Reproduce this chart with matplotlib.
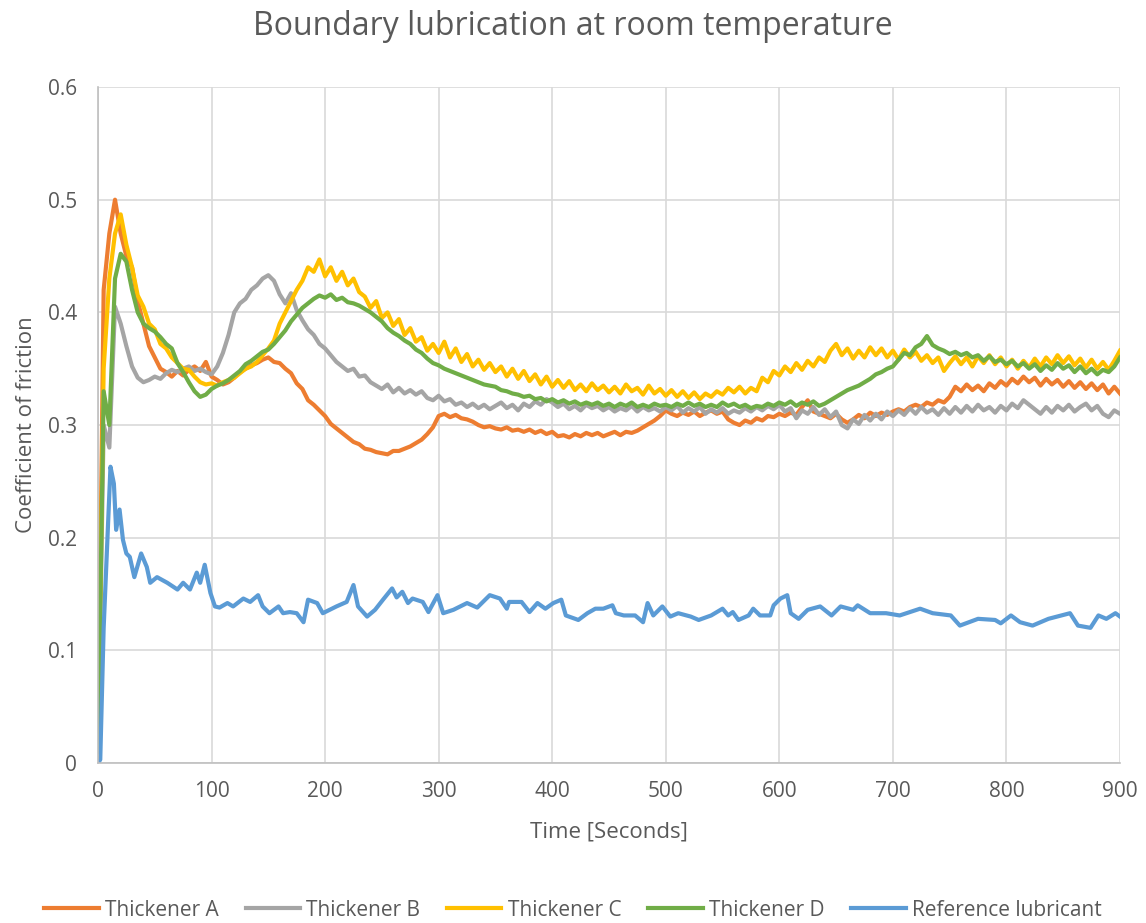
import numpy as np
import matplotlib.pyplot as plt

plt.rcParams['font.family'] = ['Open Sans', 'DejaVu Sans']

# time grid of the thickener series (seconds)
t = np.arange(0, 905, 5)

thick_a = [
    0.00, 0.42, 0.47, 0.50, 0.47, 0.45, 0.44, 0.41, 0.39, 0.37,
    0.36, 0.35, 0.347, 0.343, 0.348, 0.344, 0.349, 0.352, 0.348, 0.356,
    0.343, 0.340, 0.336, 0.338, 0.342, 0.347, 0.350, 0.353, 0.355, 0.358,
    0.360, 0.356, 0.355, 0.350, 0.346, 0.337, 0.332, 0.322, 0.318, 0.313,
    0.308, 0.301, 0.297, 0.293, 0.289, 0.285, 0.283, 0.279, 0.278, 0.276,
    0.275, 0.274, 0.277, 0.277, 0.279, 0.281, 0.284, 0.287, 0.292, 0.298,
    0.308, 0.310, 0.307, 0.309, 0.306, 0.305, 0.303, 0.300, 0.298, 0.299,
    0.297, 0.296, 0.298, 0.295, 0.296, 0.294, 0.296, 0.293, 0.295, 0.292,
    0.294, 0.290, 0.291, 0.289, 0.292, 0.290, 0.293, 0.291, 0.293, 0.290,
    0.292, 0.294, 0.291, 0.294, 0.293, 0.295, 0.298, 0.301, 0.304, 0.308,
    0.313, 0.310, 0.308, 0.311, 0.309, 0.312, 0.308, 0.311, 0.313, 0.310,
    0.312, 0.305, 0.302, 0.300, 0.304, 0.302, 0.306, 0.304, 0.308, 0.307,
    0.310, 0.308, 0.311, 0.309, 0.316, 0.322, 0.312, 0.310, 0.308, 0.306,
    0.310, 0.305, 0.302, 0.305, 0.309, 0.306, 0.311, 0.308, 0.311, 0.309,
    0.312, 0.314, 0.312, 0.316, 0.318, 0.316, 0.320, 0.318, 0.322, 0.320,
    0.325, 0.334, 0.330, 0.336, 0.331, 0.335, 0.330, 0.337, 0.333, 0.339,
    0.335, 0.341, 0.337, 0.343, 0.338, 0.342, 0.335, 0.341, 0.336, 0.340,
    0.334, 0.339, 0.333, 0.338, 0.332, 0.337, 0.331, 0.336, 0.328, 0.334,
    0.328,
]

thick_b = [
    0.00, 0.30, 0.28, 0.405, 0.39, 0.37, 0.352, 0.342, 0.338, 0.340,
    0.343, 0.341, 0.346, 0.349, 0.347, 0.350, 0.352, 0.348, 0.350, 0.347,
    0.345, 0.352, 0.364, 0.380, 0.400, 0.408, 0.412, 0.420, 0.424, 0.430,
    0.433, 0.428, 0.416, 0.408, 0.417, 0.402, 0.393, 0.385, 0.380, 0.372,
    0.368, 0.362, 0.356, 0.352, 0.348, 0.350, 0.343, 0.344, 0.338, 0.335,
    0.332, 0.336, 0.329, 0.333, 0.328, 0.331, 0.327, 0.330, 0.324, 0.322,
    0.326, 0.321, 0.323, 0.318, 0.320, 0.316, 0.319, 0.315, 0.318, 0.314,
    0.317, 0.320, 0.315, 0.318, 0.313, 0.319, 0.316, 0.321, 0.318, 0.323,
    0.320, 0.316, 0.319, 0.314, 0.317, 0.313, 0.318, 0.315, 0.317, 0.313,
    0.316, 0.312, 0.315, 0.313, 0.317, 0.312, 0.316, 0.313, 0.315, 0.312,
    0.316, 0.313, 0.317, 0.311, 0.315, 0.312, 0.316, 0.310, 0.314, 0.311,
    0.315, 0.310, 0.313, 0.311, 0.315, 0.312, 0.316, 0.313, 0.317, 0.314,
    0.318, 0.312, 0.315, 0.306, 0.313, 0.310, 0.316, 0.309, 0.314, 0.307,
    0.312, 0.300, 0.297, 0.305, 0.301, 0.309, 0.304, 0.310, 0.305, 0.312,
    0.308, 0.313, 0.309, 0.315, 0.310, 0.316, 0.311, 0.314, 0.309, 0.315,
    0.310, 0.316, 0.311, 0.317, 0.312, 0.318, 0.313, 0.316, 0.311, 0.317,
    0.313, 0.319, 0.315, 0.322, 0.318, 0.314, 0.310, 0.316, 0.311, 0.317,
    0.313, 0.318, 0.312, 0.316, 0.319, 0.313, 0.317, 0.310, 0.307, 0.313,
    0.310,
]

thick_c = [
    0.00, 0.35, 0.43, 0.47, 0.487, 0.46, 0.44, 0.415, 0.405, 0.39,
    0.385, 0.372, 0.368, 0.360, 0.355, 0.350, 0.349, 0.343, 0.338, 0.336,
    0.337, 0.335, 0.338, 0.340, 0.342, 0.346, 0.350, 0.352, 0.356, 0.362,
    0.368, 0.375, 0.390, 0.400, 0.410, 0.420, 0.428, 0.440, 0.436, 0.447,
    0.432, 0.440, 0.428, 0.436, 0.424, 0.430, 0.418, 0.414, 0.404, 0.410,
    0.395, 0.400, 0.388, 0.394, 0.380, 0.386, 0.374, 0.378, 0.366, 0.372,
    0.364, 0.374, 0.360, 0.368, 0.356, 0.363, 0.352, 0.358, 0.349, 0.355,
    0.347, 0.352, 0.343, 0.350, 0.341, 0.348, 0.339, 0.345, 0.336, 0.343,
    0.334, 0.340, 0.333, 0.339, 0.331, 0.336, 0.330, 0.337, 0.331, 0.335,
    0.329, 0.334, 0.328, 0.336, 0.330, 0.333, 0.327, 0.335, 0.328, 0.332,
    0.326, 0.331, 0.325, 0.330, 0.324, 0.329, 0.323, 0.328, 0.325, 0.330,
    0.327, 0.333, 0.329, 0.334, 0.328, 0.333, 0.330, 0.342, 0.338, 0.348,
    0.344, 0.352, 0.347, 0.355, 0.349, 0.357, 0.352, 0.360, 0.356, 0.366,
    0.372, 0.362, 0.368, 0.359, 0.366, 0.360, 0.369, 0.362, 0.368, 0.360,
    0.366, 0.358, 0.367, 0.360, 0.365, 0.357, 0.362, 0.355, 0.360, 0.348,
    0.355, 0.361, 0.354, 0.360, 0.352, 0.361, 0.355, 0.362, 0.354, 0.360,
    0.352, 0.358, 0.350, 0.357, 0.351, 0.359, 0.352, 0.360, 0.354, 0.362,
    0.355, 0.361, 0.353, 0.359, 0.351, 0.358, 0.350, 0.356, 0.349, 0.357,
    0.366,
]

thick_d = [
    0.01, 0.33, 0.30, 0.43, 0.452, 0.445, 0.42, 0.40, 0.39, 0.386,
    0.383, 0.378, 0.372, 0.368, 0.355, 0.347, 0.338, 0.330, 0.325, 0.327,
    0.332, 0.335, 0.337, 0.340, 0.344, 0.348, 0.354, 0.357, 0.361, 0.365,
    0.367, 0.372, 0.378, 0.384, 0.392, 0.398, 0.404, 0.408, 0.412, 0.415,
    0.413, 0.416, 0.411, 0.413, 0.409, 0.408, 0.406, 0.403, 0.400, 0.396,
    0.392, 0.386, 0.382, 0.379, 0.375, 0.372, 0.367, 0.364, 0.359, 0.355,
    0.353, 0.350, 0.348, 0.346, 0.344, 0.342, 0.340, 0.338, 0.336, 0.335,
    0.334, 0.331, 0.330, 0.328, 0.327, 0.325, 0.326, 0.323, 0.324, 0.321,
    0.323, 0.320, 0.322, 0.319, 0.321, 0.318, 0.320, 0.318, 0.320, 0.317,
    0.319, 0.316, 0.319, 0.317, 0.320, 0.316, 0.318, 0.316, 0.319, 0.317,
    0.318, 0.316, 0.319, 0.317, 0.320, 0.317, 0.319, 0.316, 0.318, 0.316,
    0.320, 0.317, 0.319, 0.316, 0.318, 0.315, 0.317, 0.316, 0.319, 0.317,
    0.320, 0.318, 0.321, 0.317, 0.320, 0.318, 0.321, 0.317, 0.319, 0.322,
    0.325, 0.328, 0.331, 0.333, 0.335, 0.338, 0.341, 0.345, 0.347, 0.350,
    0.352, 0.358, 0.364, 0.362, 0.369, 0.372, 0.379, 0.371, 0.368, 0.366,
    0.363, 0.365, 0.362, 0.364, 0.360, 0.362, 0.357, 0.361, 0.356, 0.358,
    0.354, 0.357, 0.352, 0.355, 0.350, 0.354, 0.348, 0.353, 0.349, 0.355,
    0.350, 0.353, 0.347, 0.352, 0.346, 0.350, 0.345, 0.349, 0.347, 0.352,
    0.360,
]

ref_t = [0, 2, 5, 11, 14, 16, 19, 22, 25, 28, 32, 38, 43, 46, 52, 61, 70, 75,
         81, 87, 90, 94, 99, 103, 107, 114, 119, 128, 134, 141, 145, 151, 159,
         163, 169, 175, 181, 185, 193, 198, 210, 219, 225, 229, 237, 244, 251,
         259, 263, 268, 273, 277, 286, 291, 299, 304, 313, 325, 334, 345, 354,
         360, 362, 373, 380, 387, 394, 401, 408, 412, 423, 431, 438, 445, 453,
         456, 463, 473, 480, 484, 489, 497, 504, 511, 522, 529, 540, 550, 555,
         559, 564, 573, 577, 583, 592, 595, 601, 607, 610, 617, 625, 636, 646,
         654, 665, 669, 680, 694, 706, 724, 735, 751, 759, 775, 790, 795, 804,
         812, 823, 837, 856, 863, 874, 881, 888, 896, 900]
ref_v = [0.0, 0.003, 0.12, 0.263, 0.248, 0.207, 0.225, 0.198, 0.186, 0.183,
         0.165, 0.186, 0.174, 0.160, 0.165, 0.160, 0.154, 0.160, 0.154, 0.169,
         0.160, 0.176, 0.151, 0.139, 0.138, 0.142, 0.139, 0.146, 0.143, 0.149,
         0.139, 0.133, 0.139, 0.133, 0.134, 0.133, 0.125, 0.145, 0.142, 0.133,
         0.139, 0.143, 0.158, 0.139, 0.130, 0.136, 0.145, 0.155, 0.147, 0.152,
         0.142, 0.146, 0.143, 0.134, 0.149, 0.133, 0.136, 0.142, 0.138, 0.149,
         0.146, 0.137, 0.143, 0.143, 0.134, 0.142, 0.137, 0.142, 0.145, 0.131,
         0.127, 0.133, 0.137, 0.137, 0.140, 0.133, 0.131, 0.131, 0.125, 0.142,
         0.131, 0.139, 0.130, 0.133, 0.130, 0.127, 0.131, 0.137, 0.131, 0.134,
         0.127, 0.131, 0.137, 0.131, 0.131, 0.140, 0.146, 0.149, 0.133, 0.128,
         0.136, 0.139, 0.131, 0.139, 0.136, 0.140, 0.133, 0.133, 0.131, 0.137,
         0.133, 0.131, 0.122, 0.128, 0.127, 0.124, 0.131, 0.125, 0.122, 0.128,
         0.133, 0.122, 0.120, 0.131, 0.128, 0.133, 0.130]

names = ["Thickener A", "Thickener B", "Thickener C", "Thickener D", "Reference lubricant"]
colors = ["#ED7D31", "#A5A5A5", "#FFC000", "#70AD47", "#5B9BD5"]

fig = plt.figure(figsize=(11.46, 9.23), dpi=100)
ax = fig.add_axes([0.0855, 0.1733, 0.8918, 0.7324])

series = [(t, thick_a), (t, thick_b), (t, thick_c), (t, thick_d), (ref_t, ref_v)]
for (x, y), name, c in zip(series, names, colors):
    ax.plot(x, y, color=c, lw=3.0, label=name, solid_joinstyle='round')

ax.set_xlim(0, 900)
ax.set_ylim(0, 0.6)
ax.set_xticks(range(0, 1000, 100))
ax.set_yticks([0, 0.1, 0.2, 0.3, 0.4, 0.5, 0.6])
ax.set_yticklabels(["0", "0.1", "0.2", "0.3", "0.4", "0.5", "0.6"])
ax.grid(True, color="#D9D9D9", lw=1.2)
ax.set_axisbelow(True)
for s in ["top", "right"]:
    ax.spines[s].set_visible(False)
for s in ["left", "bottom"]:
    ax.spines[s].set_color("#BFBFBF")
    ax.spines[s].set_linewidth(1.2)
ax.tick_params(length=0, labelsize=15, colors="#595959")
ax.tick_params(axis="y", pad=15)
ax.tick_params(axis="x", pad=13)

ax.set_xlabel("Time [Seconds]", fontsize=16, color="#595959")
ax.set_ylabel("Coefficient of friction", fontsize=16, color="#595959")
ax.xaxis.set_label_coords(0.5, -0.087)
ax.yaxis.set_label_coords(-0.060, 0.5)
fig.text(0.5, 0.971, "Boundary lubrication at room temperature", ha="center",
         va="center", fontsize=23, color="#595959")

fig.legend(loc="center", bbox_to_anchor=(0.5, 0.014), ncol=5, frameon=False,
           fontsize=15, labelcolor="#595959", handlelength=2.6, columnspacing=1.3,
           handletextpad=0.3)

fig.savefig("out.png", dpi=100)
